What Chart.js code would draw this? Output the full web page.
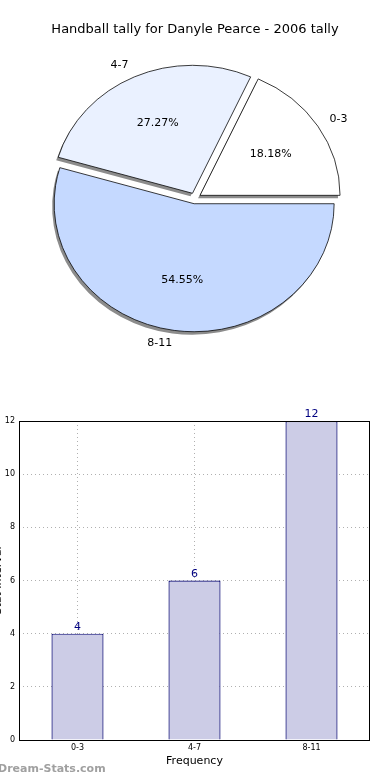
<!DOCTYPE html>
<html>
<head>
<meta charset="utf-8">
<script src="https://cdn.jsdelivr.net/npm/chart.js@4.4.0/dist/chart.umd.min.js"></script>
<style>
  body { margin: 0; background: #fff; width: 390px; height: 780px; overflow: hidden; position: relative; font-family: "DejaVu Sans", sans-serif; }
  #pieChart { position: absolute; left: 0; top: 0; }
  #barChart { position: absolute; left: 0; top: 380px; }
  .mark { position: absolute; left: -2px; top: 762px; font-size: 11px; font-weight: bold; color: #a0a0a0; }
</style>
</head>
<body>
<canvas id="pieChart" width="390" height="380"></canvas>
<canvas id="barChart" width="390" height="400"></canvas>
<div class="mark">Dream-Stats.com</div>
<script>
const categories = ['0-3', '4-7', '8-11']
const counts = [4, 6, 12]
const percents = ['18.18%', '27.27%', '54.55%']
const yTicks = [0, 2, 4, 6, 8, 10, 12]

const pieColors = ['#ffffff', '#eaf1ff', '#c5d9ff']
const ELLIPSE = 128 / 140
const SHIFT = 6 // px each slice is pulled out from the centre

Chart.defaults.font.family = '"DejaVu Sans", sans-serif'
Chart.defaults.color = '#000'

// matplotlib goes counter-clockwise from 3 o'clock, chart.js clockwise,
// so the slices go in reversed and start at rotation 90
let pieLabels = categories.slice().reverse()
let pieData = counts.slice().reverse()
let piePct = percents.slice().reverse()
let pieBg = pieColors.slice().reverse()

function squash(ctx, cx, cy) {
    ctx.translate(cx, cy)
    ctx.scale(1, ELLIPSE)
    ctx.translate(-cx, -cy)
}

function pullOut(ctx, el) {
    let mid = (el.startAngle + el.endAngle) / 2
    ctx.translate(Math.cos(mid) * SHIFT, Math.sin(mid) * SHIFT)
}

const pieLook = {
    id: 'pieLook',
    beforeDatasetDraw(chart, args) {
        let ctx = chart.ctx
        let arcs = args.meta.data
        // shadows first
        arcs.forEach(el => {
            let o = el.options
            el.options = Object.assign({}, o, { backgroundColor: '#8c8c8c', borderWidth: 0 })
            ctx.save()
            ctx.translate(-2, 3)
            squash(ctx, el.x, el.y)
            pullOut(ctx, el)
            el.draw(ctx)
            ctx.restore()
            el.options = o
        })
        arcs.forEach(el => {
            ctx.save()
            squash(ctx, el.x, el.y)
            pullOut(ctx, el)
            el.draw(ctx)
            ctx.restore()
        })
        return false
    },
    afterDatasetsDraw(chart) {
        let ctx = chart.ctx
        ctx.save()
        ctx.font = '11px "DejaVu Sans"'
        ctx.fillStyle = '#000'
        ctx.textBaseline = 'middle'
        chart.getDatasetMeta(0).data.forEach((el, i) => {
            let mid = (el.startAngle + el.endAngle) / 2
            let r = el.outerRadius
            let cx = el.x + Math.cos(mid) * SHIFT
            let cy = el.y + Math.sin(mid) * SHIFT * ELLIPSE
            ctx.textAlign = 'center'
            ctx.fillText(piePct[i], cx + Math.cos(mid) * r * 0.6, cy + Math.sin(mid) * r * 0.6 * ELLIPSE)
            ctx.textAlign = Math.cos(mid) >= 0 ? 'left' : 'right'
            ctx.fillText(pieLabels[i], cx + Math.cos(mid) * r * 1.1, cy + Math.sin(mid) * r * 1.1 * ELLIPSE)
        })
        ctx.restore()
    }
}

new Chart(document.getElementById('pieChart'), {
    type: 'pie',
    data: {
        labels: pieLabels,
        datasets: [{
            data: pieData,
            backgroundColor: pieBg,
            borderColor: '#000',
            borderWidth: 0.8,
            hoverOffset: 0
        }]
    },
    options: {
        responsive: false,
        animation: false,
        rotation: 90,
        radius: 140,
        layout: { padding: { top: 0, bottom: 31 } },
        plugins: {
            legend: { display: false },
            tooltip: { enabled: false },
            title: {
                display: true,
                text: 'Handball tally for Danyle Pearce - 2006 tally',
                font: { size: 13, weight: 'normal' },
                padding: { top: 22, bottom: 10 }
            }
        }
    },
    plugins: [pieLook]
})

const barLook = {
    id: 'barLook',
    afterDatasetsDraw(chart) {
        let ctx = chart.ctx
        let a = chart.chartArea
        ctx.save()
        ctx.strokeStyle = '#000'
        ctx.lineWidth = 1
        ctx.strokeRect(Math.round(a.left) + 0.5, Math.round(a.top) + 0.5, Math.round(a.right - a.left) - 1, Math.round(a.bottom - a.top))
        ctx.font = '11px "DejaVu Sans"'
        ctx.fillStyle = '#000080'
        ctx.textAlign = 'center'
        ctx.textBaseline = 'bottom'
        chart.getDatasetMeta(0).data.forEach((bar, i) => {
            ctx.fillText(String(counts[i]), bar.x, bar.y - 1)
        })
        // y title, cut off at the left edge like the original
        ctx.translate(-2, (a.top + a.bottom) / 2)
        ctx.rotate(-Math.PI / 2)
        ctx.fillStyle = '#000'
        ctx.textBaseline = 'middle'
        ctx.fillText('Stat Interval', 0, 0)
        ctx.restore()
    }
}

new Chart(document.getElementById('barChart'), {
    type: 'bar',
    data: {
        labels: categories,
        datasets: [{
            data: counts,
            backgroundColor: '#ccccE6',
            borderColor: '#000070',
            borderWidth: 1.2,
            barPercentage: 0.445,
            categoryPercentage: 1
        }]
    },
    options: {
        responsive: false,
        animation: false,
        layout: { padding: { top: 41, right: 20, bottom: 12, left: 0 } },
        plugins: {
            legend: { display: false },
            tooltip: { enabled: false }
        },
        scales: {
            x: {
                afterFit: s => { s.height = 28 },
                grid: { offset: false, color: '#b0b0b0', drawTicks: false },
                border: { display: false, dash: [1, 3] },
                ticks: { font: { size: 8 }, padding: 3, color: '#000' },
                title: { display: true, text: 'Frequency', font: { size: 11 }, padding: { top: 0, bottom: 0 } }
            },
            y: {
                min: 0,
                max: 12,
                afterFit: s => { s.width = 19 },
                afterBuildTicks: s => { s.ticks = yTicks.map(v => ({ value: v })) },
                grid: { color: '#b0b0b0', drawTicks: false },
                border: { display: false, dash: [1, 3] },
                ticks: { font: { size: 8 }, padding: 4, color: '#000' }
            }
        }
    },
    plugins: [barLook]
})
</script>
</body>
</html>
